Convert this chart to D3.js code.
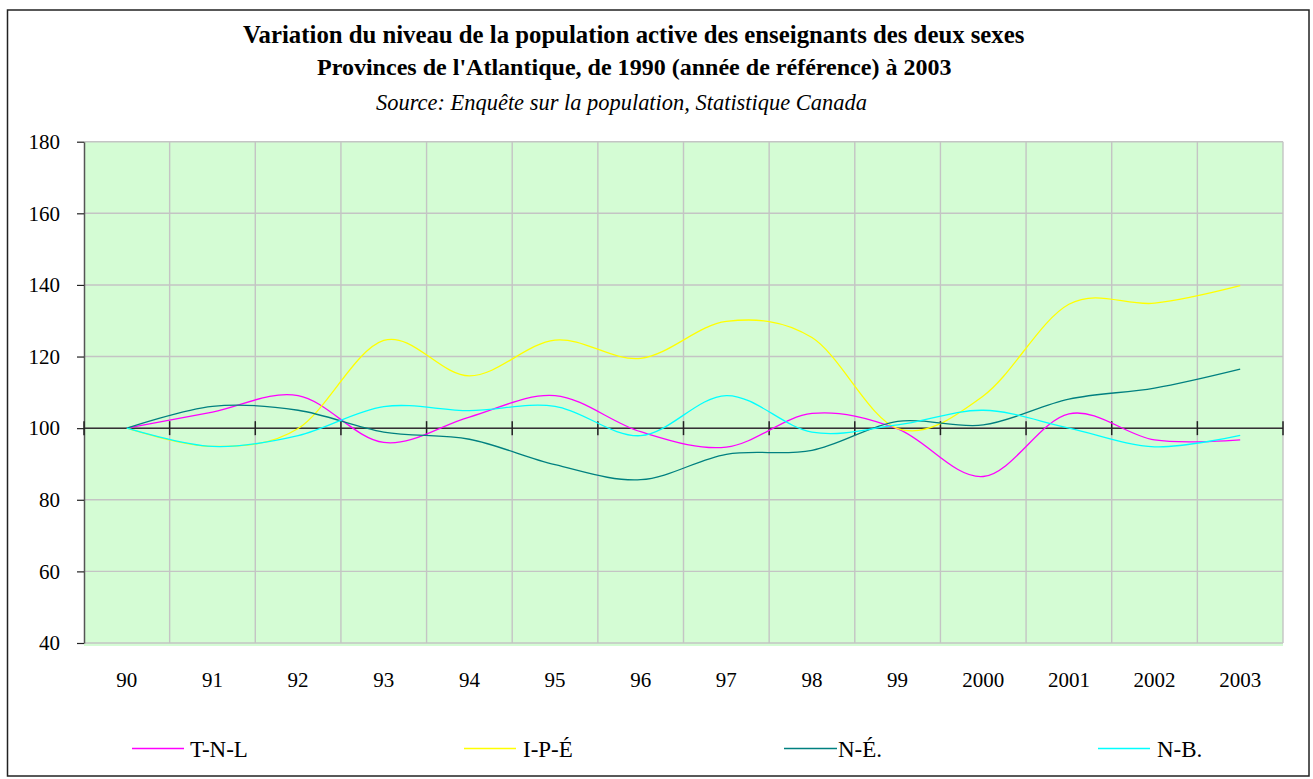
<!DOCTYPE html>
<html>
<head>
<meta charset="utf-8">
<script src="https://d3js.org/d3.v7.min.js"></script>
<style>
  html, body { margin: 0; padding: 0; background: #fff; }
  svg { display: block; }
  svg text { font-family: "Liberation Serif", "DejaVu Serif", serif; }
</style>
</head>
<body>
<script>
// ---- data ----
const years = ["90","91","92","93","94","95","96","97","98","99","2000","2001","2002","2003"];
const tnl = [100, 104.5, 109.1, 96.0, 103.1, 109.1, 99.0, 94.7, 104.1, 99.8, 86.5, 104.0, 96.7, 96.7];
const ipe = [100, 94.9, 99.9, 124.5, 114.6, 124.6, 119.5, 129.8, 125.3, 99.9, 109.0, 134.6, 134.9, 139.8];
const ne  = [100, 106.1, 105.0, 98.9, 96.9, 89.8, 85.6, 92.7, 93.8, 101.9, 100.9, 108.1, 111.2, 116.5];
const nb  = [100, 94.9, 97.9, 106.0, 104.9, 106.1, 97.9, 109.1, 98.9, 100.9, 105.0, 100.0, 94.8, 98.0];
const seriesNames = ["T-N-L", "I-P-É", "N-É.", "N-B."];
const yTicks = [40, 60, 80, 100, 120, 140, 160, 180];
const titleLines = [
  "Variation du niveau de la population active des enseignants des deux sexes",
  "Provinces de l'Atlantique, de 1990 (année de référence) à 2003",
  "Source: Enquête sur la population, Statistique Canada"
];

// ---- layout ----
const W = 1313, H = 779;
const FONT = '"Liberation Serif", "DejaVu Serif", serif';
const colors = ["#ff00ff", "#ffff00", "#008080", "#00ffff"];
const seriesData = [tnl, ipe, ne, nb];

const svg = d3.select("body").append("svg").attr("width", W).attr("height", H);

// outer frame
svg.append("rect").attr("x", 7.5).attr("y", 10).attr("width", 1301.5).attr("height", 766)
  .attr("fill", "#fff").attr("stroke", "#222").attr("stroke-width", 1.5);

const plotL = 84, plotR = 1283, plotT = 141.7, plotB = 643;
const x = d3.scaleBand().domain(years).range([plotL, plotR]).padding(0);
const y = d3.scaleLinear().domain([40, 180]).range([plotB, plotT]);
const cx = d => x(d) + x.bandwidth() / 2;

// plot background
svg.append("rect").attr("x", plotL).attr("y", plotT).attr("width", plotR - plotL).attr("height", plotB - plotT + 3)
  .attr("fill", "#d4fcd4");

// horizontal gridlines
svg.append("g").selectAll("line").data(yTicks).join("line")
  .attr("x1", plotL).attr("x2", plotR).attr("y1", d => y(d)).attr("y2", d => y(d))
  .attr("stroke", "#c4c4c4").attr("stroke-width", 1.4);

// vertical gridlines at category boundaries
svg.append("g").selectAll("line").data(years).join("line")
  .attr("x1", d => x(d) + x.bandwidth()).attr("x2", d => x(d) + x.bandwidth())
  .attr("y1", plotT).attr("y2", plotB)
  .attr("stroke", "#c4c4c4").attr("stroke-width", 1.4);

// y axis
const yAxis = svg.append("g").attr("transform", `translate(${plotL},0)`)
  .call(d3.axisLeft(y).tickValues(yTicks).tickSize(7).tickSizeOuter(0).tickPadding(17));
yAxis.attr("font-family", null);
yAxis.select(".domain").attr("stroke", "#555").attr("stroke-width", 1.5);
yAxis.selectAll(".tick line").attr("stroke", "#222").attr("stroke-width", 1.2);
yAxis.selectAll("text").style("font-family", FONT).style("font-size", "21px").attr("fill", "#000");

// x axis labels (at bottom)
const xAxis = svg.append("g").attr("transform", `translate(0,${plotB})`)
  .call(d3.axisBottom(x).tickSize(0).tickPadding(29));
xAxis.attr("font-family", null);
xAxis.select(".domain").remove();
xAxis.selectAll("text").style("font-family", FONT).style("font-size", "21px").attr("fill", "#000");

// crossing axis at 100 with tick marks on category boundaries
const y100 = y(100);
svg.append("line").attr("x1", plotL).attr("x2", plotR).attr("y1", y100).attr("y2", y100)
  .attr("stroke", "#333").attr("stroke-width", 1.5);
const boundaries = [plotL].concat(years.map(d => x(d) + x.bandwidth()));
svg.append("g").selectAll("line").data(boundaries).join("line")
  .attr("x1", d => d).attr("x2", d => d).attr("y1", y100 - 7).attr("y2", y100 + 7)
  .attr("stroke", "#222").attr("stroke-width", 1.5);

// series lines (smoothed)
const lineGen = d3.line()
  .x((d, i) => cx(years[i]))
  .y(d => y(d))
  .curve(d3.curveCardinal.tension(0));
svg.append("g").selectAll("path").data(seriesData).join("path")
  .attr("d", d => lineGen(d))
  .attr("fill", "none")
  .attr("stroke", (d, i) => colors[i])
  .attr("stroke-width", 1.3);

// legend
const legendY = 748.5;
const legendItems = [
  { lx1: 132, lx2: 184, tx: 190 },
  { lx1: 464, lx2: 516, tx: 523 },
  { lx1: 784, lx2: 837, tx: 838 },
  { lx1: 1098, lx2: 1150, tx: 1157 }
];
const lg = svg.append("g");
seriesNames.forEach((name, i) => {
  const it = legendItems[i];
  lg.append("line").attr("x1", it.lx1).attr("x2", it.lx2).attr("y1", legendY).attr("y2", legendY)
    .attr("stroke", colors[i]).attr("stroke-width", 1.3);
  lg.append("text").attr("x", it.tx).attr("y", legendY + 8)
    .style("font-family", FONT).style("font-size", "23px").attr("fill", "#000").text(name);
});

// titles
const titleSpecs = [
  { x: 243, y: 43, w: 782, weight: "bold", style: "normal" },
  { x: 317, y: 75, w: 635, weight: "bold", style: "normal" },
  { x: 376, y: 110, w: 491, weight: "normal", style: "italic" }
];
titleLines.forEach((t, i) => {
  const s = titleSpecs[i];
  const el = svg.append("text").attr("x", s.x).attr("y", s.y)
    .style("font-family", FONT).style("font-size", "20px")
    .style("font-weight", s.weight).style("font-style", s.style)
    .attr("fill", "#000").text(t);
  const w = el.node().getComputedTextLength();
  if (w > 0) el.style("font-size", (20 * s.w / w) + "px");
});
</script>
</body>
</html>
